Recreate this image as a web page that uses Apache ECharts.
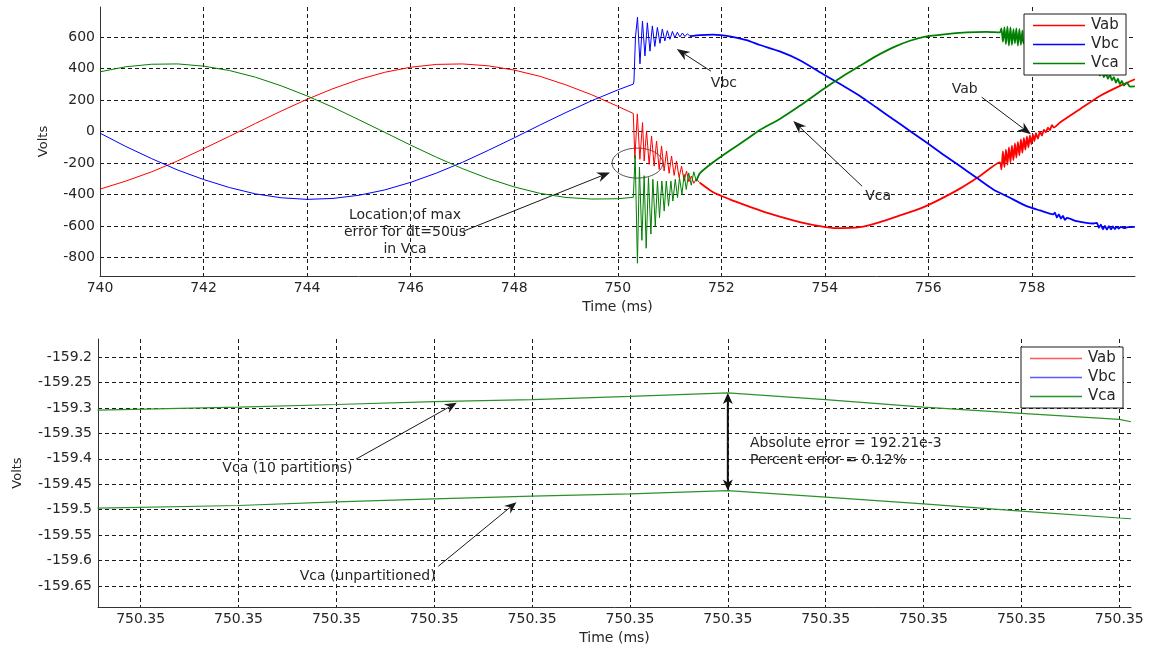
<!DOCTYPE html>
<html>
<head>
<meta charset="utf-8">
<script src="https://cdn.jsdelivr.net/npm/echarts@6/dist/echarts.min.js"></script>
<style>
  html, body { margin: 0; padding: 0; background: #fff; }
  #top { position: absolute; left: 0; top: 0; width: 1150px; height: 320px; }
  #bottom { position: absolute; left: 0; top: 320px; width: 1150px; height: 330px; }
</style>
</head>
<body>
<div id="top"></div>
<div id="bottom"></div>
<script>
// ---------- Upper plot: line voltages around the switching event (ms, V) ----------
const preTime = [740, 740.5, 741, 741.5, 742, 742.5, 743, 743.5, 744, 744.5, 745, 745.5,
                 746, 746.5, 747, 747.5, 748, 748.5, 749, 749.5, 750, 750.3];
const vabPre = [-365, -314, -255, -186, -109, -30, 51, 130, 205, 272, 330, 376,
                408, 426, 429, 417, 390, 350, 296, 233, 160, 115];
const vbcPre = [-10, -95, -172, -244, -304, -355, -395, -420, -430, -424, -404, -370,
                -322, -263, -195, -119, -40, 42, 121, 196, 264, 301];
const vcaPre = [379, 411, 427, 429, 415, 387, 345, 290, 226, 154, 75, -5,
                -86, -163, -235, -298, -351, -392, -418, -428, -426, -417];

// after the event: ringing, then the slower trend with its later bursts
const vabPostT = [750.3, 750.33, 750.378, 750.427, 750.479, 750.51, 750.556, 750.606, 750.653, 750.703,
  750.749, 750.8, 750.846, 750.896, 750.942, 750.992, 751.039, 751.089, 751.135, 751.185,
  751.232, 751.282, 751.328, 751.373, 751.421, 751.469, 751.517, 751.585, 751.842, 752.165,
  752.487, 752.744, 753.13, 753.516, 753.903, 754.225, 754.677, 755.063, 755.45, 755.836,
  756.222, 756.609, 756.995, 757.381, 757.41, 757.439, 757.468, 757.497, 757.526, 757.555,
  757.584, 757.613, 757.642, 757.671, 757.698, 757.728, 757.757, 757.786, 757.815, 757.844,
  757.872, 757.902, 757.931, 757.96, 757.989, 758.018, 758.047, 758.076, 758.114, 758.153,
  758.192, 758.231, 758.269, 758.308, 758.347, 758.385, 758.424, 758.54, 758.926, 759.312,
  759.699, 759.988];
const vabPostV = [115, -170, 112, -176, 57, -187, 4, -208, -28, -219,
  -60, -240, -91, -250, -123, -265, -155, -278, -187, -292,
  -219, -314, -250, -318, -282, -328, -300, -325, -385, -430,
  -470, -500, -540, -574, -600, -613, -606, -574, -532, -489,
  -430, -362, -282, -195, -240, -125, -225, -115, -210, -100,
  -195, -90, -180, -75, -165, -65, -150, -50, -135, -40,
  -115, -30, -100, -25, -80, -20, -60, -10, -45, 0,
  -25, 12, -5, 25, 8, 40, 26, 57, 142, 226,
  290, 332];

const vbcPostT = [750.3, 750.313, 750.342, 750.381, 750.429, 750.477, 750.525, 750.572, 750.622, 750.668,
  750.716, 750.765, 750.815, 750.861, 750.91, 750.958, 751.008, 751.056, 751.104, 751.151,
  751.201, 751.248, 751.298, 751.345, 751.394, 751.585, 751.842, 752.165, 752.487, 752.744,
  753.13, 753.516, 753.968, 754.354, 754.677, 754.999, 755.32, 755.643, 755.964, 756.284,
  756.609, 756.931, 757.252, 757.574, 757.896, 758.153, 758.41, 758.443, 758.482, 758.52,
  758.559, 758.598, 758.637, 758.675, 758.862, 759.183, 759.254, 759.293, 759.331, 759.37,
  759.409, 759.447, 759.486, 759.525, 759.563, 759.602, 759.641, 759.679, 759.718, 759.776,
  759.853, 759.988];
const vbcPostV = [301, 320, 600, 725, 430, 700, 480, 690, 510, 670,
  540, 660, 560, 650, 575, 640, 585, 635, 595, 630,
  600, 625, 603, 620, 605, 612, 615, 604, 580, 549,
  508, 452, 364, 290, 226, 152, 78, 4, -70, -145,
  -219, -293, -367, -420, -473, -500, -525, -515, -545, -525,
  -552, -535, -560, -548, -568, -583, -580, -610, -590, -620,
  -598, -622, -600, -620, -602, -618, -603, -615, -604, -612,
  -606, -604];

const vcaPostT = [750.3, 750.31, 750.336, 750.38, 750.419, 750.466, 750.51, 750.549, 750.593, 750.64,
  750.678, 750.725, 750.767, 750.806, 750.852, 750.897, 750.937, 750.981, 751.026, 751.065,
  751.111, 751.154, 751.192, 751.239, 751.283, 751.323, 751.37, 751.42, 751.468, 751.517,
  751.585, 751.842, 752.165, 752.487, 752.744, 753.13, 753.516, 753.968, 754.354, 754.677,
  754.999, 755.32, 755.643, 755.964, 756.351, 756.737, 757.123, 757.381, 757.41, 757.439,
  757.468, 757.497, 757.526, 757.555, 757.584, 757.613, 757.642, 757.671, 757.698, 757.728,
  757.757, 757.786, 757.815, 757.844, 758.153, 758.54, 758.926, 759.249, 759.274, 759.312,
  759.351, 759.39, 759.428, 759.467, 759.506, 759.544, 759.583, 759.622, 759.66, 759.699,
  759.737, 759.776, 759.834, 759.892, 759.988];
const vcaPostV = [-417, -346, -150, -835, -225, -690, -280, -740, -292, -650,
  -303, -600, -314, -546, -314, -504, -314, -473, -314, -441,
  -303, -419, -292, -398, -271, -367, -262, -340, -255, -315,
  -265, -195, -120, -49, 10, 80, 163, 269, 353, 417,
  480, 534, 576, 604, 618, 629, 632, 629, 655, 570,
  660, 555, 665, 545, 660, 550, 650, 560, 655, 545,
  650, 550, 640, 560, 530, 470, 420, 375, 390, 355,
  385, 345, 370, 335, 360, 325, 345, 310, 335, 300,
  322, 292, 310, 285, 286];

// time at which each phase's ringing has settled into its trend
const ringEndTime = { Vab: 751.585, Vbc: 751.394, Vca: 751.517 };

const topXTicks = [740, 742, 744, 746, 748, 750, 752, 754, 756, 758];
const topYTicks = [-800, -600, -400, -200, 0, 200, 400, 600];

// ---------- Lower plot: Vca near 750.35 ms, with and without partitioning ----------
const zoomTime = [750.349556, 750.3497, 750.3498, 750.3499, 750.35, 750.3501, 750.3502,
                  750.3503, 750.3504, 750.3505, 750.3506, 750.350612];
const vcaPartitioned = [-159.3043, -159.2984, -159.2931, -159.2873, -159.2834, -159.277, -159.2703,
                        -159.2834, -159.2984, -159.3107, -159.3225, -159.327];
const vcaUnpartitioned = [-159.4969, -159.4918, -159.4846, -159.4787, -159.4734, -159.4689, -159.46251,
                          -159.4754, -159.4885, -159.5027, -159.5164, -159.5178];
const bottomXTicks = [750.3496, 750.3497, 750.3498, 750.3499, 750.35, 750.3501, 750.3502,
                      750.3503, 750.3504, 750.3505, 750.3506];
const bottomYTicks = [-159.65, -159.6, -159.55, -159.5, -159.45, -159.4, -159.35, -159.3, -159.25, -159.2];

const phaseNames = ['Vab', 'Vbc', 'Vca'];

// ---------- shared styling ----------
const FONT = '"DejaVu Sans", "Liberation Sans", sans-serif';
const INK = '#262626';
const zip = (xs, ys) => xs.map((x, i) => [x, ys[i]]);
const gridLine = { show: true, lineStyle: { color: '#1a1a1a', type: [4, 3], width: 1 } };
const axisLine = { show: true, onZero: false, lineStyle: { color: '#333', width: 1 } };
const tickFont = { fontFamily: FONT, fontSize: 14, color: INK };

function lineSeries(name, data, color, width, smooth) {
  return {
    name, type: 'line', data, symbol: 'none', showSymbol: false, color,
    smooth: smooth || false,
    lineStyle: { color, width }, animation: false, silent: true
  };
}

// split a post-event record into its ringing part and its trend part
function postParts(name, T, V, color) {
  const k = T.indexOf(ringEndTime[name]);
  return [
    lineSeries(name, zip(T.slice(0, k + 1), V.slice(0, k + 1)), color, 1),
    lineSeries(name, zip(T.slice(k), V.slice(k)), color, 1.8, 0.2)
  ];
}

function legendBox(topPx, leftPx) {
  return {
    data: phaseNames, orient: 'vertical', left: leftPx, top: topPx,
    icon: 'rect', padding: [3, 7, 3, 9], itemGap: 2, itemWidth: 52, itemHeight: 1.6,
    backgroundColor: '#fff', borderColor: '#1a1a1a', borderWidth: 1,
    textStyle: { fontFamily: FONT, fontSize: 15, color: INK, lineHeight: 17, padding: [0, 0, 0, 1] },
    selectedMode: false
  };
}

// arrow: shaft from tail to tip with a notched, filled head
function arrow(p0, p1, color, width, len, half, notch) {
  const dx = p1[0] - p0[0], dy = p1[1] - p0[1];
  const L = Math.hypot(dx, dy), ux = dx / L, uy = dy / L, nx = -uy, ny = ux;
  const base = [p1[0] - ux * len, p1[1] - uy * len];
  const back = [p1[0] - ux * (len - notch), p1[1] - uy * (len - notch)];
  return [
    { type: 'line', silent: true, shape: { x1: p0[0], y1: p0[1], x2: back[0], y2: back[1] },
      style: { stroke: color, lineWidth: width } },
    { type: 'polygon', silent: true,
      shape: { points: [p1, [base[0] + nx * half, base[1] + ny * half], back, [base[0] - nx * half, base[1] - ny * half]] },
      style: { fill: color } }
  ];
}
function label(p, text, align) {
  return { type: 'text', silent: true, x: p[0], y: p[1],
    style: { text, font: '14px ' + FONT, fill: INK, align: align || 'center', verticalAlign: 'middle', lineHeight: 17 } };
}

// ---------- upper chart ----------
const topChart = echarts.init(document.getElementById('top'), null, { renderer: 'canvas' });
topChart.setOption({
  animation: false,
  backgroundColor: '#fff',
  grid: { left: 100, right: 15, top: 7, bottom: 44 },
  legend: legendBox(14, 1024),
  xAxis: {
    type: 'value', min: 740, max: 759.99,
    name: 'Time (ms)', nameLocation: 'middle', nameGap: 21,
    nameTextStyle: { fontFamily: FONT, fontSize: 14, color: INK },
    axisLine, axisTick: { show: false, customValues: topXTicks },
    axisLabel: Object.assign({ customValues: topXTicks, margin: 5 }, tickFont),
    splitLine: gridLine
  },
  yAxis: {
    type: 'value', min: -916, max: 790,
    name: 'Volts', nameLocation: 'middle', nameGap: 50, nameRotate: 90,
    nameTextStyle: { fontFamily: FONT, fontSize: 13, color: INK },
    axisLine, axisTick: { show: false, customValues: topYTicks },
    axisLabel: Object.assign({ customValues: topYTicks, margin: 5 }, tickFont),
    splitLine: gridLine
  },
  series: [
    lineSeries('Vab', zip(preTime, vabPre), '#ff0000', 1),
    lineSeries('Vbc', zip(preTime, vbcPre), '#0000ff', 1),
    lineSeries('Vca', zip(preTime, vcaPre), '#008000', 1),
    ...postParts('Vab', vabPostT, vabPostV, '#ff0000'),
    ...postParts('Vbc', vbcPostT, vbcPostV, '#0000ff'),
    ...postParts('Vca', vcaPostT, vcaPostV, '#008000')
  ]
});

// annotations of the upper chart, placed in data coordinates
const maxErrCentre = [750.38, -200], maxErrHalfT = 0.49, maxErrHalfV = 95;
const topNotes = [
  { text: 'Location of max\nerror for dt=50us\nin Vca', at: [745.89, -639], tail: [747.01, -633], tip: [749.85, -259] },
  { text: 'Vbc', at: [752.05, 307], tail: [751.80, 383], tip: [751.14, 523] },
  { text: 'Vca', at: [755.03, -411], tail: [754.72, -347], tip: [753.39, 67] },
  { text: 'Vab', at: [756.70, 268], tail: [757.03, 218], tip: [757.98, -17] }
];
const tp = v => topChart.convertToPixel({ gridIndex: 0 }, v);
const topGraphics = [];
const centrePx = tp(maxErrCentre);
const cornerPx = tp([maxErrCentre[0] + maxErrHalfT, maxErrCentre[1] + maxErrHalfV]);
topGraphics.push({ type: 'ellipse', silent: true,
  shape: { cx: centrePx[0], cy: centrePx[1], rx: Math.abs(cornerPx[0] - centrePx[0]), ry: Math.abs(cornerPx[1] - centrePx[1]) },
  style: { fill: 'none', stroke: '#4d4d4d', lineWidth: 1 } });
topNotes.forEach(n => {
  topGraphics.push(label(tp(n.at), n.text));
  topGraphics.push(...arrow(tp(n.tail), tp(n.tip), '#1a1a1a', 1, 13, 5, 4));
});
topChart.setOption({ graphic: { elements: topGraphics } });

// ---------- lower chart ----------
const bottomChart = echarts.init(document.getElementById('bottom'), null, { renderer: 'canvas' });
bottomChart.setOption({
  animation: false,
  backgroundColor: '#fff',
  grid: { left: 98, right: 19, top: 19, bottom: 41 },
  legend: legendBox(27, 1021),
  xAxis: {
    type: 'value', min: 750.3495564, max: 750.350612,
    name: 'Time (ms)', nameLocation: 'middle', nameGap: 23,
    nameTextStyle: { fontFamily: FONT, fontSize: 14, color: INK },
    axisLine, axisTick: { show: false, customValues: bottomXTicks },
    axisLabel: Object.assign({ customValues: bottomXTicks, margin: 5, formatter: v => v.toFixed(2) }, tickFont),
    splitLine: gridLine
  },
  yAxis: {
    type: 'value', min: -159.6916, max: -159.1643,
    name: 'Volts', nameLocation: 'middle', nameGap: 74, nameRotate: 90,
    nameTextStyle: { fontFamily: FONT, fontSize: 13, color: INK },
    axisLine, axisTick: { show: false, customValues: bottomYTicks },
    axisLabel: Object.assign({ customValues: bottomYTicks, margin: 6, formatter: v => String(+v.toFixed(2)) }, tickFont),
    splitLine: gridLine
  },
  series: [
    lineSeries('Vab', [], '#ff5a5a', 1.2),
    lineSeries('Vbc', [], '#5a5aff', 1.2),
    lineSeries('Vca', zip(zoomTime, vcaPartitioned), '#2a922a', 1.2),
    lineSeries('Vca', zip(zoomTime, vcaUnpartitioned), '#2a922a', 1.2)
  ]
});

const bp = v => bottomChart.convertToPixel({ gridIndex: 0 }, v);
const peakIdx = vcaPartitioned.indexOf(Math.max(...vcaPartitioned));
const absErr = vcaPartitioned[peakIdx] - vcaUnpartitioned[peakIdx];
const pctErr = 100 * absErr / Math.abs(vcaUnpartitioned[peakIdx]);
const bottomGraphics = [];
bottomGraphics.push(label(bp([750.34975, -159.418]), 'Vca (10 partitions)'));
bottomGraphics.push(...arrow(bp([750.34982, -159.4006]), bp([750.349923, -159.2898]), '#1a1a1a', 1, 12, 5, 4));
bottomGraphics.push(label(bp([750.349832, -159.6316]), 'Vca (unpartitioned)'));
bottomGraphics.push(...arrow(bp([750.349904, -159.6115]), bp([750.349984, -159.4852]), '#1a1a1a', 1, 12, 5, 4));
// double-headed marker spanning the gap between the two curves at their peak
const peakUpPx = bp([zoomTime[peakIdx], vcaPartitioned[peakIdx]]);
const peakLowPx = bp([zoomTime[peakIdx], vcaUnpartitioned[peakIdx]]);
const gapMid = [peakUpPx[0], (peakUpPx[1] + peakLowPx[1]) / 2];
bottomGraphics.push(...arrow(gapMid, peakUpPx, '#111', 2, 11, 5, 3));
bottomGraphics.push(...arrow(gapMid, peakLowPx, '#111', 2, 11, 5, 3));
bottomGraphics.push(label(bp([750.3502226, -159.3866]),
  'Absolute error = ' + (absErr * 1000).toFixed(2) + 'e-3\nPercent error = ' + pctErr.toFixed(2) + '%', 'left'));
bottomChart.setOption({ graphic: { elements: bottomGraphics } });
</script>
</body>
</html>
